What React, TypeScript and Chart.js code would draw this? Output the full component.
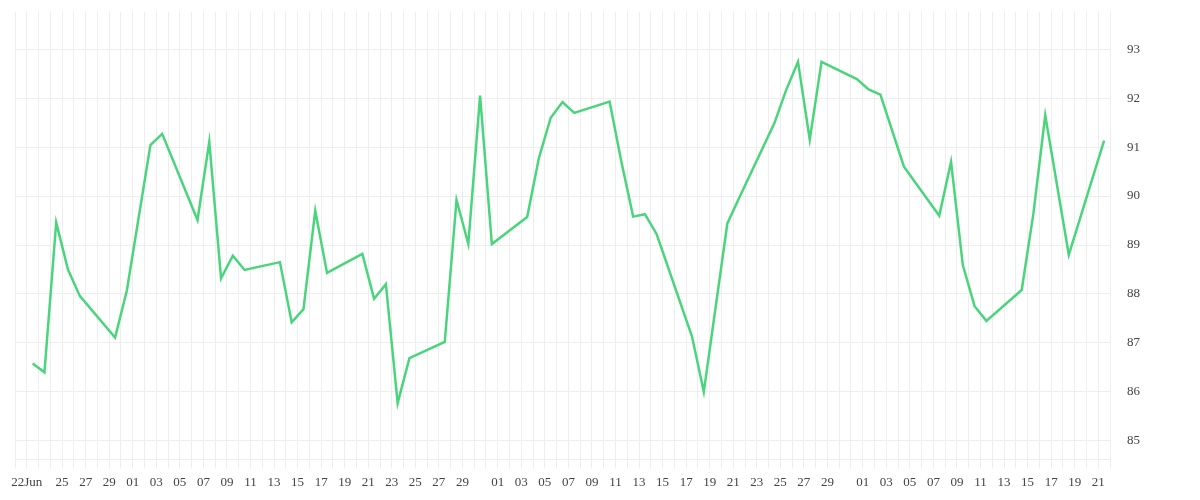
import { useEffect, useRef } from "react";
import { Chart, registerables } from "chart.js";

Chart.register(...registerables);

// axis runs from Jun 21 (00:00) to Sep 22, one gridline per day
const YEAR = 2024;
const AXIS_START = new Date(YEAR, 5, 21);
const AXIS_DAYS = 93;
const MONTHS = ["Jan", "Feb", "Mar", "Apr", "May", "Jun", "Jul", "Aug", "Sep", "Oct", "Nov", "Dec"];

const dates = [
  "06-22", "06-23", "06-24", "06-25", "06-26", "06-29", "06-30",
  "07-02", "07-03", "07-06", "07-07", "07-08", "07-09", "07-10",
  "07-13", "07-14", "07-15", "07-16", "07-17", "07-20", "07-21",
  "07-22", "07-23", "07-24", "07-27", "07-28", "07-29", "07-30",
  "07-31", "08-03", "08-04", "08-05", "08-06", "08-07", "08-10",
  "08-11", "08-12", "08-13", "08-14", "08-17", "08-18", "08-20",
  "08-21", "08-24", "08-25", "08-26", "08-27", "08-28", "08-31",
  "09-01", "09-02", "09-04", "09-07", "09-08", "09-09", "09-10",
  "09-11", "09-14", "09-15", "09-16", "09-18", "09-21",
];

const scores = [
  86.58, 86.4, 89.46, 88.5, 87.96, 87.11, 88.07,
  91.04, 91.27, 89.51, 91.11, 88.32, 88.78, 88.49,
  88.65, 87.42, 87.69, 89.7, 88.43, 88.82, 87.9,
  88.2, 85.77, 86.69, 87.02, 89.92, 89.02, 92.05,
  89.02, 89.57, 90.78, 91.6, 91.92, 91.7, 91.93,
  90.7, 89.58, 89.63, 89.22, 87.13, 86.0, 89.44,
  89.96, 91.49, 92.17, 92.74, 91.15, 92.74, 92.39,
  92.18, 92.07, 90.6, 89.6, 90.7, 88.59, 87.75,
  87.45, 88.08, 89.65, 91.65, 88.8, 91.13,
];

const Y_MIN = 84.62;
const Y_MAX = 93.76;

function dayIndex(md: string): number {
  const [m, d] = md.split("-").map(Number);
  const t = new Date(YEAR, m - 1, d).getTime();
  return Math.round((t - AXIS_START.getTime()) / 86400000);
}

// first tick gets the month, then every odd day (31 is dropped next to 01)
function tickLabel(v: number): string {
  const d = new Date(YEAR, 5, 21 + v);
  const day = d.getDate();
  if (v === 1) return `${day}${MONTHS[d.getMonth()]}`;
  if (v < 4 || day === 31) return "";
  return day % 2 === 1 ? String(day).padStart(2, "0") : "";
}

export default function App() {
  const canvasRef = useRef<HTMLCanvasElement | null>(null);

  useEffect(() => {
    const canvas = canvasRef.current;
    if (!canvas) return;

    const grid = "#eeeeee";
    const font = { family: "'Liberation Serif', serif", size: 13 };

    // points sit at midday, between the day gridlines
    const points = dates.map((md, i) => ({ x: dayIndex(md) + 0.5, y: scores[i] }));

    const chart = new Chart(canvas, {
      type: "line",
      data: {
        datasets: [
          {
            data: points,
            borderColor: "#4ad57c",
            borderWidth: 2.5,
            pointRadius: 0,
            tension: 0,
            fill: false,
          },
        ],
      },
      options: {
        responsive: true,
        maintainAspectRatio: false,
        animation: false,
        layout: { padding: { left: 7, top: 4, right: 52, bottom: 0 } },
        plugins: { legend: { display: false }, tooltip: { enabled: false } },
        scales: {
          x: {
            type: "linear",
            min: 0,
            max: AXIS_DAYS,
            grid: { color: grid, tickLength: 9 },
            border: { color: grid },
            ticks: {
              stepSize: 1,
              maxTicksLimit: 200,
              autoSkip: false,
              maxRotation: 0,
              color: "#444",
              font,
              padding: 6,
              callback: (v) => tickLabel(Number(v)),
            },
          },
          y: {
            position: "right",
            min: Y_MIN,
            max: Y_MAX,
            grid: { color: grid, tickLength: 17, tickColor: "rgba(0,0,0,0)" },
            border: { display: false },
            ticks: {
              stepSize: 1,
              includeBounds: false,
              color: "#444",
              font,
              padding: 0,
            },
            // the top label sits well below the edge, so no extra room is needed
            afterFit: (scale) => {
              scale.paddingTop = 0;
            },
          },
        },
      },
    });

    return () => chart.destroy();
  }, []);

  return (
    <div style={{ position: "relative", width: 1184, height: 488 }}>
      <canvas ref={canvasRef} />
    </div>
  );
}
